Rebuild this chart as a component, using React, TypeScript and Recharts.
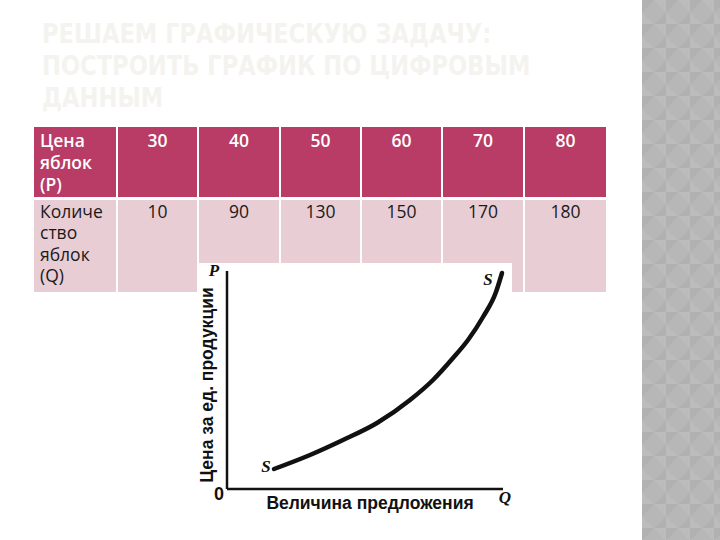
import React from "react";
import { LineChart, Line, XAxis, YAxis, LabelList, Label } from "recharts";

// Table data
const priceLabel = "Цена\nяблок\n(P)";
const quantityLabel = "Количе\nство\nяблок\n(Q)";
const prices = [30, 40, 50, 60, 70, 80];
const quantities = [10, 90, 130, 150, 170, 180];

// Supply curve (arbitrary units from the origin)
const curveQ = [47, 83, 116, 150, 183, 206, 226, 241, 256, 269, 275];
const curveP = [20, 34, 49, 66, 89, 109, 131, 149, 172, 197, 216];
const qMax = 276;
const pMax = 218;

const titleText = "РЕШАЕМ ГРАФИЧЕСКУЮ ЗАДАЧУ:\nПОСТРОИТЬ ГРАФИК ПО ЦИФРОВЫМ\nДАННЫМ";
const yTitle = "Цена за ед. продукции";
const xTitle = "Величина предложения";
const curveName = "S";

const chartData = curveQ.map((q, i) => ({ q, p: curveP[i] }));

const serifItalic = {
  fontFamily: "'Liberation Serif', 'DejaVu Serif', serif",
  fontStyle: "italic" as const,
  fontWeight: 700,
  fontSize: 17,
  fill: "#111",
};
const sansBold = {
  fontFamily: "'Liberation Sans', Arial, sans-serif",
  fontWeight: 700,
  fontSize: 17.5,
  fill: "#111",
};

function SLabel(props: any) {
  const { x, y, index } = props;
  if (index === 0) {
    return (
      <text x={x - 8} y={y - 3} textAnchor="middle" dominantBaseline="central" {...serifItalic}>
        {curveName}
      </text>
    );
  }
  if (index === chartData.length - 1) {
    return (
      <text x={x - 14} y={y + 6} textAnchor="middle" dominantBaseline="central" {...serifItalic}>
        {curveName}
      </text>
    );
  }
  return null;
}

function XLabels(props: any) {
  const vb = props.viewBox || {};
  const x = vb.x ?? 36;
  const y = vb.y ?? 234;
  const w = vb.width ?? 276;
  return (
    <g>
      <text x={x - 8} y={y + 5} textAnchor="middle" dominantBaseline="central" {...sansBold} fontSize={18}>
        0
      </text>
      <text x={x + w / 2 + 5} y={y + 14} textAnchor="middle" dominantBaseline="central" {...sansBold}>
        {xTitle}
      </text>
      <text x={x + w + 2} y={y + 8} textAnchor="middle" dominantBaseline="central" {...serifItalic}>
        Q
      </text>
    </g>
  );
}

function YLabels(props: any) {
  const vb = props.viewBox || {};
  const x = (vb.x ?? 8) + (vb.width ?? 28);
  const y = vb.y ?? 16;
  const h = vb.height ?? 218;
  const cy = y + h / 2 + 5;
  return (
    <g>
      <text
        x={x - 20}
        y={cy}
        transform={`rotate(-90 ${x - 20} ${cy})`}
        textAnchor="middle"
        dominantBaseline="central"
        {...sansBold}
      >
        {yTitle}
      </text>
      <text x={x - 13} y={y - 1} textAnchor="middle" dominantBaseline="central" {...serifItalic}>
        P
      </text>
    </g>
  );
}

const HEADER = "#b83c66";
const BODY = "#e9cdd5";

export default function App() {
  const tableFont = "'Open Sans', 'Noto Sans', sans-serif";
  const colW = [83, 81, 82, 81, 81, 82, 82];
  const cellBase = {
    verticalAlign: "top" as const,
    padding: "2px 6px 0 6px",
    borderStyle: "solid",
    borderColor: "#fff",
  };
  return (
    <div
      style={{
        position: "absolute",
        left: 0,
        top: 0,
        width: 720,
        height: 540,
        background: "#ffffff",
        overflow: "hidden",
      }}
    >
      {/* decorative right panel */}
      <div
        style={{
          position: "absolute",
          left: 642,
          top: 0,
          width: 78,
          height: 540,
          backgroundColor: "#b7b7b7",
          backgroundImage:
            "linear-gradient(45deg, rgba(255,255,255,0.07) 25%, transparent 25%, transparent 75%, rgba(255,255,255,0.07) 75%), linear-gradient(-45deg, rgba(0,0,0,0.035) 25%, transparent 25%, transparent 75%, rgba(0,0,0,0.035) 75%)",
          backgroundSize: "24px 24px",
        }}
      />
      {/* title */}
      <div
        style={{
          position: "absolute",
          left: 42,
          top: 18,
          fontFamily: "'DejaVu Sans Condensed', 'DejaVu Sans', sans-serif",
          fontWeight: 700,
          fontSize: 27,
          lineHeight: "32px",
          color: "#f5f3ef",
          whiteSpace: "pre",
          transform: "scaleX(0.93)",
          transformOrigin: "left top",
        }}
      >
        {titleText}
      </div>
      {/* table */}
      <table
        style={{
          position: "absolute",
          left: 34,
          top: 127,
          width: 572,
          borderCollapse: "collapse",
          tableLayout: "fixed",
          fontFamily: tableFont,
          fontSize: 17.5,
        }}
      >
        <colgroup>
          {colW.map((w, i) => (
            <col key={i} style={{ width: w }} />
          ))}
        </colgroup>
        <tbody>
          <tr style={{ height: 71 }}>
            <td
              style={{
                ...cellBase,
                background: HEADER,
                color: "#fff",
                fontWeight: 600,
                lineHeight: "22px",
                whiteSpace: "pre",
                borderWidth: "0 2px 3px 0",
              }}
            >
              {priceLabel}
            </td>
            {prices.map((p, i) => (
              <td
                key={i}
                style={{
                  ...cellBase,
                  background: HEADER,
                  color: "#fff",
                  fontWeight: 600,
                  lineHeight: "22px",
                  textAlign: "center",
                  borderWidth: `0 ${i === prices.length - 1 ? 0 : 2}px 3px 0`,
                }}
              >
                {p}
              </td>
            ))}
          </tr>
          <tr style={{ height: 94 }}>
            <td
              style={{
                ...cellBase,
                background: BODY,
                color: "#1a1a1a",
                lineHeight: "21.5px",
                whiteSpace: "pre",
                padding: "1px 6px 0 6px",
                borderWidth: "0 2px 0 0",
              }}
            >
              {quantityLabel}
            </td>
            {quantities.map((q, i) => (
              <td
                key={i}
                style={{
                  ...cellBase,
                  background: BODY,
                  color: "#1a1a1a",
                  lineHeight: "21.5px",
                  padding: "1px 6px 0 6px",
                  textAlign: "center",
                  borderWidth: `0 ${i === quantities.length - 1 ? 0 : 2}px 0 0`,
                }}
              >
                {q}
              </td>
            ))}
          </tr>
        </tbody>
      </table>
      {/* white backdrop of the graph picture */}
      <div style={{ position: "absolute", left: 199, top: 263, width: 313, height: 257, background: "#fff" }} />
      {/* supply curve chart */}
      <div style={{ position: "absolute", left: 191, top: 255, width: 321, height: 265 }}>
        <LineChart
          width={321}
          height={265}
          data={chartData}
          margin={{ top: 16, right: 9, left: 8, bottom: 0 }}
        >
          <XAxis
            type="number"
            dataKey="q"
            domain={[0, qMax]}
            tick={false}
            tickLine={false}
            height={31}
            axisLine={{ stroke: "#111", strokeWidth: 2.5 }}
          >
            <Label content={<XLabels />} />
          </XAxis>
          <YAxis
            type="number"
            dataKey="p"
            domain={[0, pMax]}
            tick={false}
            tickLine={false}
            width={28}
            axisLine={{ stroke: "#111", strokeWidth: 2.5 }}
          >
            <Label content={<YLabels />} />
          </YAxis>
          <Line
            type="monotone"
            dataKey="p"
            stroke="#111"
            strokeWidth={4.5}
            dot={false}
            isAnimationActive={false}
            strokeLinecap="round"
          >
            <LabelList dataKey="p" content={<SLabel />} />
          </Line>
        </LineChart>
      </div>
    </div>
  );
}
